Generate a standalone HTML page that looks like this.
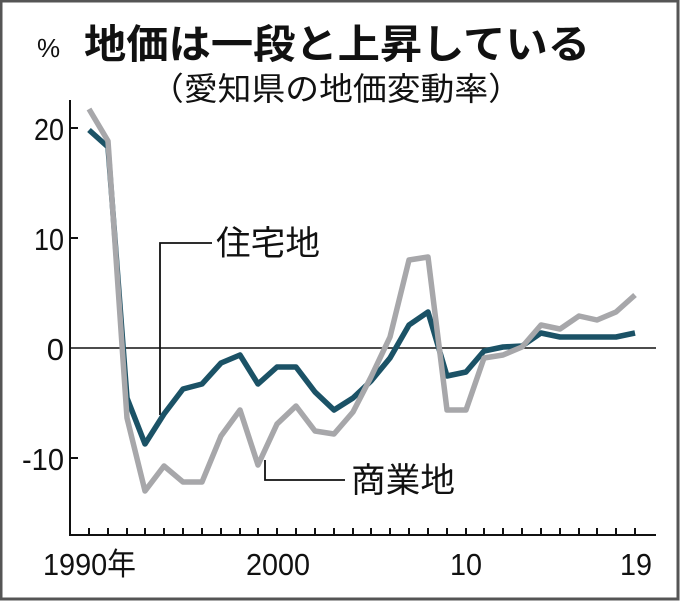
<!DOCTYPE html>
<html><head><meta charset="utf-8"><style>
body{margin:0;background:#fff}
svg{display:block}
text{font-family:"Liberation Sans","Noto Sans CJK JP",sans-serif;fill:#111}
</style></head><body>
<svg width="680" height="601" viewBox="0 0 680 601">
<rect x="1" y="1" width="677" height="598" fill="#fff" stroke="#555" stroke-width="3"/>
<text x="37" y="57" font-size="26">%</text>
<text x="84" y="58" font-size="40" font-weight="bold" font-family="Noto Sans CJK JP,sans-serif" textLength="506" lengthAdjust="spacingAndGlyphs">地価は一段と上昇している</text>
<text x="150" y="100" font-size="32" font-family="Noto Sans CJK JP,sans-serif" textLength="372" lengthAdjust="spacingAndGlyphs">（愛知県の地価変動率）</text>
<g stroke="#111" stroke-width="2" fill="none">
<path d="M70,100 V535 H656"/>
<path d="M70,128 h8 M70,238 h8 M70,458 h8"/>
<path d="M70,348 H656" stroke-width="1.5"/>
<path d="M89,535v-7M108,535v-7M127,535v-7M145,535v-7M164,535v-7M183,535v-7M202,535v-7M221,535v-7M240,535v-7M258,535v-7M277,535v-7M296,535v-7M315,535v-7M334,535v-7M353,535v-7M371,535v-7M390,535v-7M409,535v-7M428,535v-7M447,535v-7M466,535v-7M484,535v-7M503,535v-7M522,535v-7M541,535v-7M560,535v-7M579,535v-7M597,535v-7M616,535v-7M635,535v-7"/>
<path d="M160,415 V243 H212" stroke-width="1.8"/>
<path d="M265,460 V480 H345" stroke-width="1.8"/>
</g>
<g font-size="31" text-anchor="end">
<text x="64" y="140" textLength="30" lengthAdjust="spacingAndGlyphs">20</text>
<text x="64" y="250" textLength="30" lengthAdjust="spacingAndGlyphs">10</text>
<text x="64" y="360">0</text>
<text x="64" y="470" textLength="42" lengthAdjust="spacingAndGlyphs">-10</text>
</g>
<g font-size="31">
<text x="43" y="575" textLength="93" lengthAdjust="spacingAndGlyphs">1990年</text>
<text x="246" y="575" textLength="64" lengthAdjust="spacingAndGlyphs">2000</text>
<text x="450" y="575" textLength="32" lengthAdjust="spacingAndGlyphs">10</text>
<text x="620" y="575" textLength="32" lengthAdjust="spacingAndGlyphs">19</text>
<text x="216" y="255" font-size="34" font-family="Noto Sans CJK JP,sans-serif" textLength="104" lengthAdjust="spacingAndGlyphs">住宅地</text>
<text x="351" y="492" font-size="34" font-family="Noto Sans CJK JP,sans-serif" textLength="104" lengthAdjust="spacingAndGlyphs">商業地</text>
</g>
<polyline fill="none" stroke="#1b5266" stroke-width="5.5" stroke-linejoin="round" points="89,130 108,147 127,398 145,444 164,414 183,389 202,384 221,363 240,355 258,384 277,367 296,367 315,392 334,410 353,398 371,381 390,358 409,325 428,312 447,376 466,372 484,351 503,347 522,346 541,333 560,337 579,337 597,337 616,337 635,333"/>
<polyline fill="none" stroke="#a7a7aa" stroke-width="5.5" stroke-linejoin="round" points="89,109 108,141 127,418 145,491 164,466 183,482 202,482 221,436 240,410 258,465 277,424 296,406 315,431 334,434 353,412 371,377 390,337 409,260 428,257 447,410 466,410 484,358 503,355 522,347 541,325 560,329 579,316 597,320 616,312 635,295"/>
</svg>
</body></html>
